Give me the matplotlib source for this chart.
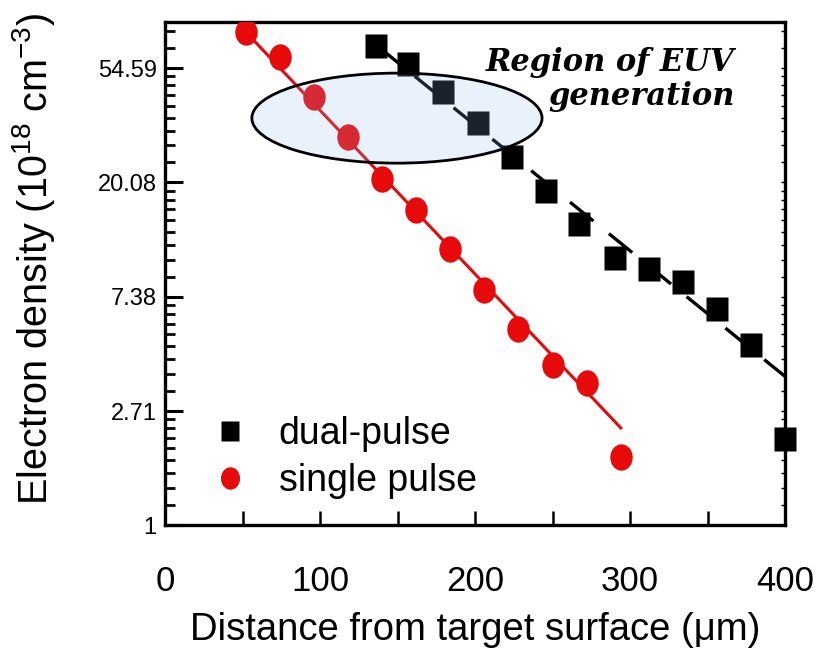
import numpy as np
import matplotlib
matplotlib.use("Agg")
import matplotlib.pyplot as plt
from matplotlib.patches import Ellipse
from matplotlib.path import Path
from matplotlib.transforms import Affine2D
from matplotlib.ticker import NullFormatter

plt.rcParams['font.family'] = ['Liberation Sans', 'DejaVu Sans']
plt.rcParams['mathtext.fontset'] = 'custom'
plt.rcParams['mathtext.rm'] = 'Liberation Sans'
plt.rcParams['mathtext.it'] = 'Liberation Sans:italic'

# single pulse (red circles)
single_x = [52, 74, 96, 118, 140, 162, 184, 206, 228, 250, 272, 294]
single_y = [75.0, 60.0, 42.4, 30.0, 20.6, 15.7, 11.2, 7.85, 5.58, 4.07, 3.48, 1.82]
# dual pulse (black squares)
dual_x = [136, 157, 179, 202, 224, 246, 267, 290, 312, 334, 356, 378, 400]
dual_y = [66.3, 56.7, 44.3, 33.7, 25.0, 18.7, 14.0, 10.4, 9.37, 8.43, 6.64, 4.85, 2.13]
# fitted lines (end points)
single_fit_x = [52, 294]
single_fit_y = [75.0, 2.34]
dual_fit_x = [136, 400]
dual_fit_y = [67.0, 3.67]

ytick_vals = [1, 2.71, 7.38, 20.08, 54.59]
ytick_labels = ['1', '2.71', '7.38', '20.08', '54.59']
xtick_vals = [0, 100, 200, 300, 400]

red = '#e60a0a'

fig = plt.figure(figsize=(8.17, 6.49), dpi=100)
ax = fig.add_axes([0.202, 0.191, 0.759, 0.775])

circle_mk = Path.unit_circle().transformed(Affine2D().scale(0.85, 1.0))
square_mk = Path([(-0.45, -0.5), (0.45, -0.5), (0.45, 0.5), (-0.45, 0.5), (-0.45, -0.5)],
                 [Path.MOVETO, Path.LINETO, Path.LINETO, Path.LINETO, Path.CLOSEPOLY])

ax.plot(single_fit_x, single_fit_y, color=red, lw=2.2, zorder=2)
dl, = ax.plot(dual_fit_x, dual_fit_y, color='black', lw=2.4, zorder=2)
dl.set_dashes((9, 6))

ax.plot(dual_x, dual_y, linestyle='none', marker=square_mk, ms=17, color='black',
        mec='none', zorder=3, label='dual-pulse', clip_on=False)
ax.plot(single_x, single_y, linestyle='none', marker=circle_mk, ms=19, color=red,
        mec='none', zorder=3, label='single pulse')

ell = Ellipse((0.374, 0.809), 0.468, 0.179, transform=ax.transAxes,
              facecolor=(140/255, 185/255, 235/255, 0.19), edgecolor='black', lw=2, zorder=4)
ax.add_patch(ell)

ax.text(0.918, 0.95, 'Region of EUV\ngeneration', transform=ax.transAxes,
        ha='right', va='top', family='DejaVu Serif', style='italic', weight='bold',
        fontsize=22, multialignment='right', linespacing=1.12)

ax.set_yscale('log')
ax.set_xlim(0, 400)
ax.set_ylim(1, 81.7)

ax.set_yticks(ytick_vals)
ax.set_yticklabels(ytick_labels)
minor = []
for k in range(5):
    lo = np.e ** k
    for j in range(1, 9):
        v = lo * (1 + j * (np.e - 1) / 9)
        if v < 81.7:
            minor.append(v)
ax.set_yticks(minor, minor=True)
ax.yaxis.set_minor_formatter(NullFormatter())
ax.set_xticks(xtick_vals)
ax.set_xticks([50, 150, 250, 350], minor=True)

ax.tick_params(axis='y', which='major', direction='in', length=13, width=2.2,
               labelsize=17, pad=6, right=True)
ax.tick_params(axis='y', which='minor', direction='in', length=7, width=2.0, right=True)
for t in ax.yaxis.get_ticklines(minor=False)[1::2] + ax.yaxis.get_ticklines(minor=True)[1::2]:
    t.set_markersize(3)
    t.set_markeredgewidth(1)
ax.tick_params(axis='x', which='both', direction='in', length=10, width=1.8,
               labelsize=25, pad=29, top=False)

for s in ax.spines.values():
    s.set_linewidth(2.4)

ax.set_xlabel('Distance from target surface (\u03bcm)', fontsize=27.5, labelpad=10)
ax.set_ylabel('Electron density (10$^{18}$ cm$^{-3}$)', fontsize=28.5)
ax.yaxis.set_label_coords(-0.175, 0.53)

ax.legend(loc='lower left', bbox_to_anchor=(-0.01, -0.03), frameon=False, fontsize=27,
          handletextpad=0.5, handlelength=1.6, labelspacing=0.3, markerscale=0.85,
          borderpad=0.6)

fig.savefig('out.png', dpi=100)
